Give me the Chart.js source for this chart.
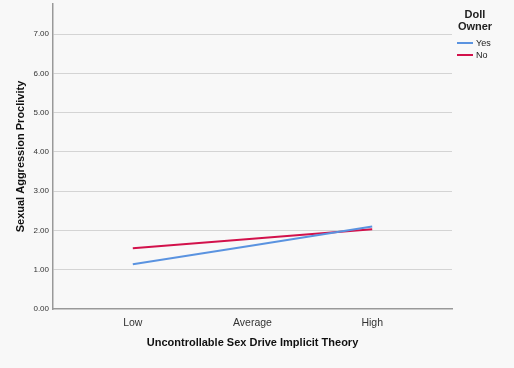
<!DOCTYPE html>
<html>
<head>
<meta charset="utf-8">
<script src="https://cdn.jsdelivr.net/npm/chart.js@4.4.1/dist/chart.umd.min.js"></script>
<style>
  html, body { margin: 0; padding: 0; background: #f8f8f8; }
  #wrap { position: relative; width: 514px; height: 368px; }
  #legend { position: absolute; left: 452px; top: 8px; width: 46px; font-family: Arial, "Liberation Sans", sans-serif; color: #222; }
  #legend .title { font-weight: bold; font-size: 11px; line-height: 12px; text-align: center; }
  #legend .item { font-size: 9px; line-height: 12px; height: 12px; margin-left: 5px; white-space: nowrap; }
  #legend .swatch { display: inline-block; width: 16px; height: 2px; vertical-align: middle; margin-right: 3px; position: relative; top: -1px; }
</style>
</head>
<body>
<div id="wrap">
  <canvas id="chart" width="514" height="368"></canvas>
  <div id="legend"></div>
</div>
<script>
// Data
const categories = ['Low', 'Average', 'High'];
const seriesNames = ['Yes', 'No'];
const yesValues = [1.14, 1.62, 2.10];
const noValues = [1.55, 1.79, 2.03];
const yTicks = [0, 1, 2, 3, 4, 5, 6, 7];

const colors = ['#5a93e0', '#d2114b'];
const font = "Arial, 'Liberation Sans', sans-serif";

// Legend (HTML)
const legend = document.getElementById('legend');
let html = '<div class="title">Doll<br>Owner</div><div style="height:5px"></div>';
seriesNames.forEach((name, i) => {
    html += '<div class="item"><span class="swatch" style="background:' + colors[i] + '"></span>' + name + '</div>';
});
legend.innerHTML = html;

const bgPlugin = {
    id: 'bg',
    beforeDraw(chart) {
        const c = chart.ctx;
        c.save();
        c.fillStyle = '#f8f8f8';
        c.fillRect(0, 0, chart.width, chart.height);
        c.restore();
    }
};

const toPoints = arr => arr.map((v, i) => ({ x: i, y: v }));

const ctx = document.getElementById('chart').getContext('2d');
const chart = new Chart(ctx, {
    type: 'line',
    data: {
        datasets: [
            { label: seriesNames[0], data: toPoints(yesValues), borderColor: colors[0], borderWidth: 2, pointRadius: 0, fill: false, tension: 0 },
            { label: seriesNames[1], data: toPoints(noValues), borderColor: colors[1], borderWidth: 2, pointRadius: 0, fill: false, tension: 0 }
        ]
    },
    options: {
        responsive: false,
        animation: false,
        layout: { padding: { top: 4, right: 62, left: 0, bottom: 0 } },
        plugins: {
            legend: { display: false },
            tooltip: { enabled: false }
        },
        scales: {
            x: {
                type: 'linear',
                min: -2 / 3,
                max: 8 / 3,
                afterBuildTicks: scale => { scale.ticks = categories.map((c, i) => ({ value: i })); },
                afterFit: scale => { scale.height = 59; scale.paddingLeft = 0; scale.paddingRight = 0; },
                grid: { display: false, drawTicks: false },
                border: { color: '#999999', width: 1.5 },
                ticks: {
                    color: '#333', padding: 8,
                    font: { family: font, size: 10.5 },
                    callback: v => categories[v]
                },
                title: {
                    display: true,
                    text: 'Uncontrollable Sex Drive Implicit Theory',
                    color: '#111',
                    font: { family: font, size: 11, weight: 'bold' },
                    padding: { top: 0, bottom: 18 }
                }
            },
            y: {
                min: 0,
                max: 7.77,
                afterBuildTicks: scale => { scale.ticks = yTicks.map(v => ({ value: v })); },
                afterFit: scale => { scale.width = 53; scale.paddingTop = 0; scale.paddingBottom = 0; },
                grid: {
                    drawTicks: false,
                    color: ctx2 => ctx2.tick && ctx2.tick.value === 0 ? 'rgba(0,0,0,0)' : '#d4d4d4',
                    lineWidth: 1
                },
                border: { color: '#999999', width: 1.5 },
                ticks: {
                    color: '#333', padding: 4,
                    font: { family: font, size: 8 },
                    callback: v => v.toFixed(2)
                },
                title: {
                    display: true,
                    text: 'Sexual Aggression Proclivity',
                    color: '#111',
                    font: { family: font, size: 11, weight: 'bold' },
                    padding: { bottom: 0, top: 14 }
                }
            }
        }
    },
    plugins: [bgPlugin]
});
</script>
</body>
</html>
